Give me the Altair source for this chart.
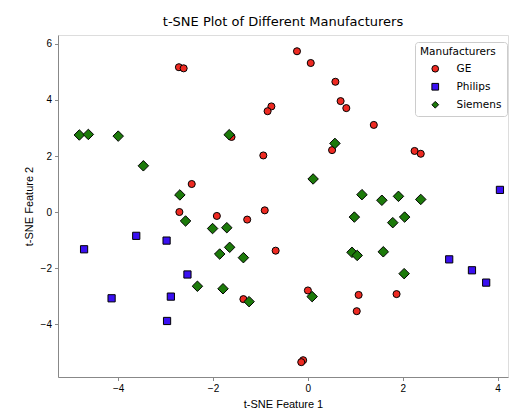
import altair as alt
import pandas as pd

# GE (red circles)
ge_x = [-2.72, -2.62, -0.77, -0.85, -1.61, -0.94, -2.45, -2.71, -1.92, -1.28,
        -0.91, -0.68, -1.36, -0.23, 0.06, 0.58, 0.69, 0.81, 1.39, 0.51,
        2.25, 2.38, 0.00, 1.07, 1.87, 1.03, -0.10, -0.14]
ge_y = [5.17, 5.13, 3.77, 3.60, 2.68, 2.02, 1.00, 0.00, -0.14, -0.27,
        0.06, -1.38, -3.11, 5.74, 5.32, 4.65, 3.96, 3.71, 3.11, 2.21,
        2.18, 2.08, -2.80, -2.96, -2.93, -3.54, -5.29, -5.36]

# Philips (blue squares)
ph_x = [-4.72, -3.62, -2.98, -2.54, -4.14, -2.89, -2.97, 2.98, 3.46, 3.76, 4.05]
ph_y = [-1.33, -0.85, -1.02, -2.23, -3.08, -3.02, -3.89, -1.69, -2.08, -2.52, 0.79]

# Siemens (green diamonds)
si_x = [-4.82, -4.63, -4.00, -3.47, -1.66, -2.70, -2.58, -2.01, -1.71, -1.65,
        -1.86, -1.36, -2.33, -1.79, -1.24, 0.57, 0.11, 1.14, 1.56, 1.91,
        2.38, 0.98, 1.79, 2.04, 0.93, 1.04, 1.59, 2.03, 0.09]
si_y = [2.75, 2.77, 2.71, 1.65, 2.76, 0.61, -0.32, -0.59, -0.56, -1.26,
        -1.50, -1.63, -2.65, -2.74, -3.20, 2.45, 1.18, 0.62, 0.42, 0.56,
        0.45, -0.18, -0.38, -0.18, -1.44, -1.55, -1.42, -2.20, -3.02]

manufacturers = ["GE", "Philips", "Siemens"]
colors = ["#ee2a22", "#3a10f2", "#1c7a0a"]
shapes = ["circle", "square", "diamond"]
marker_sizes = [50, 52, 110]
x_ticks = [-4, -2, 0, 2, 4]
y_ticks = [-4, -2, 0, 2, 4, 6]

rows = []
for name, xs, ys in [("GE", ge_x, ge_y), ("Philips", ph_x, ph_y), ("Siemens", si_x, si_y)]:
    for a, b in zip(xs, ys):
        rows.append({"x": a, "y": b, "Manufacturers": name})
df = pd.DataFrame(rows)

FONT = "DejaVu Sans"

x_enc = alt.X("x:Q", title="t-SNE Feature 1",
              scale=alt.Scale(domain=[-5.27, 4.22], nice=False, zero=False),
              axis=alt.Axis(values=x_ticks, grid=False, tickSize=3.5, labelPadding=3,
                            titlePadding=5, format="d", titleFontWeight="normal"))
y_enc = alt.Y("y:Q", title="t-SNE Feature 2",
              scale=alt.Scale(domain=[-5.89, 6.32], nice=False, zero=False),
              axis=alt.Axis(values=y_ticks, grid=False, tickSize=3.5, labelPadding=3,
                            titlePadding=6, format="d", titleFontWeight="normal"))
legend = alt.Legend(orient="none", legendX=357, legendY=7,
                    fillColor="white", strokeColor="#cccccc",
                    cornerRadius=3, padding=5, rowPadding=6,
                    symbolStrokeColor="black", symbolStrokeWidth=1,
                    symbolSize=45, symbolOffset=10, labelOffset=16,
                    titleFontWeight="normal", titleFontSize=10.5,
                    labelFontSize=10.5, titleFont=FONT, labelFont=FONT,
                    titleColor="black", labelColor="black", titlePadding=6)
color_enc = alt.Color("Manufacturers:N",
                      scale=alt.Scale(domain=manufacturers, range=colors),
                      legend=legend)
shape_enc = alt.Shape("Manufacturers:N",
                      scale=alt.Scale(domain=manufacturers, range=shapes))

base = alt.Chart(df)
layers = []
for name, sz in zip(manufacturers, marker_sizes):
    layers.append(
        base.transform_filter(alt.datum.Manufacturers == name)
        .mark_point(filled=True, stroke="black", strokeWidth=1, opacity=1, size=sz)
        .encode(x=x_enc, y=y_enc, color=color_enc, shape=shape_enc)
    )

chart = alt.layer(*layers).properties(
    width=450, height=342,
    title=alt.TitleParams("t-SNE Plot of Different Manufacturers", font=FONT,
                          fontSize=13, fontWeight="normal", color="black", offset=6),
    padding={"left": 58, "top": 35, "right": 2, "bottom": 35},
    autosize=alt.AutoSizeParams(type="none"),
).configure_axis(
    labelFont=FONT, titleFont=FONT, labelFontSize=10, titleFontSize=10,
    titleFontWeight="normal", labelColor="#222", titleColor="#222",
    domainColor="#333", tickColor="#333", domainWidth=0.8, tickWidth=0.8,
).configure_view(
    stroke="#333", strokeWidth=0.8,
).configure(background="white")

chart.save("out.html", embed_options={"renderer": "svg", "actions": False})
